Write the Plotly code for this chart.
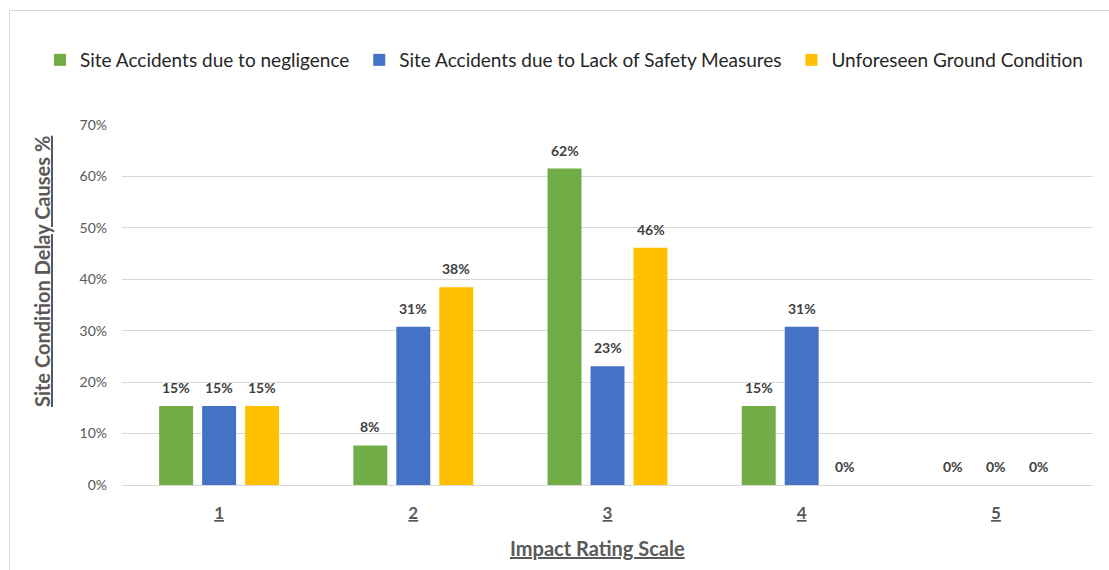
import plotly.graph_objects as go

# Impact rating categories and share of responses per delay cause
ratings = ["1", "2", "3", "4", "5"]
negligence = [0.1538, 0.0769, 0.6154, 0.1538, 0.0]
lack_of_safety = [0.1538, 0.3077, 0.2308, 0.3077, 0.0]
ground_condition = [0.1538, 0.3846, 0.4615, 0.0, 0.0]

series_names = [
    "Site Accidents due to negligence",
    "Site Accidents due to Lack of Safety Measures",
    "Unforeseen Ground Condition",
]
series_values = [negligence, lack_of_safety, ground_condition]
series_colors = ["#70AD47", "#4472C4", "#FFC000"]

W, H = 1109, 570
ML, MR, MT, MB = 122, 16, 125, 85
PW, PH = W - ML - MR, H - MT - MB


def px_x(p):
    return (p - ML) / PW


def px_y(p):
    return (H - MB - p) / PH


FONT = "Lato"
GRAY = "#595959"
LABEL = "#404040"
PAD = "\u00a0"  # extra room between legend entries

fig = go.Figure()
for name, vals, color in zip(series_names, series_values, series_colors):
    fig.add_trace(go.Bar(
        x=ratings, y=vals, name=name + PAD,
        marker=dict(color=color, line=dict(width=0)),
        hoverinfo="skip",
    ))

# value labels above each bar, offset to follow the bar groups
slot = 43
annotations = []
for j, vals in enumerate(series_values):
    for i, v in enumerate(vals):
        annotations.append(dict(
            x=i, y=v, xref="x", yref="y", text=f"<b>{v:.0%}</b>",
            showarrow=False, xanchor="center", yanchor="bottom",
            xshift=(j - 1) * slot, yshift=8,
            font=dict(family=FONT, size=14, color=LABEL),
        ))

annotations.append(dict(
    x=px_x(42), y=px_y(272), xref="paper", yref="paper",
    text="<b><u>Site Condition Delay Causes %</u></b>", textangle=-90,
    showarrow=False, xanchor="center", yanchor="middle",
    font=dict(family=FONT, size=20, color=GRAY),
))
annotations.append(dict(
    x=px_x(597), y=px_y(548), xref="paper", yref="paper",
    text="<b><u>Impact Rating Scale</u></b>",
    showarrow=False, xanchor="center", yanchor="middle",
    font=dict(family=FONT, size=20, color=GRAY),
))

fig.update_layout(
    width=W, height=H,
    margin=dict(l=ML, r=MR, t=MT, b=MB, pad=0),
    paper_bgcolor="white", plot_bgcolor="white",
    barmode="group", bargap=0.336, bargroupgap=0.21,
    font=dict(family=FONT, color=GRAY),
    showlegend=True,
    legend=dict(
        orientation="h", x=px_x(40), y=px_y(60), xanchor="left", yanchor="middle",
        font=dict(family=FONT, size=19, color="#262626"),
        bgcolor="rgba(0,0,0,0)", itemclick=False, itemdoubleclick=False,
    ),
    annotations=annotations,
    shapes=[dict(
        type="rect", xref="paper", yref="paper",
        x0=px_x(9.5), x1=px_x(W + 5), y0=px_y(H + 5), y1=px_y(10.5),
        line=dict(color="#D9D9D9", width=1), fillcolor="rgba(0,0,0,0)",
        layer="below",
    )],
)

fig.update_xaxes(
    type="category", categoryorder="array", categoryarray=ratings,
    range=[-0.5, len(ratings) - 0.5],
    tickvals=ratings, ticktext=[f"<b><u>{r}</u></b>" for r in ratings],
    showgrid=False, showline=False, zeroline=False, ticks="",
    ticklabelstandoff=16,
    tickfont=dict(family=FONT, size=17, color=GRAY),
)
fig.update_yaxes(
    range=[0, 0.7], dtick=0.1, tickformat=".0%",
    showgrid=True, gridcolor="#D9D9D9", gridwidth=1,
    zeroline=True, zerolinecolor="#D9D9D9", zerolinewidth=1,
    showline=False, ticks="", ticklabelstandoff=14,
    tickfont=dict(family=FONT, size=14, color=GRAY),
)

fig.write_html("out.html")
